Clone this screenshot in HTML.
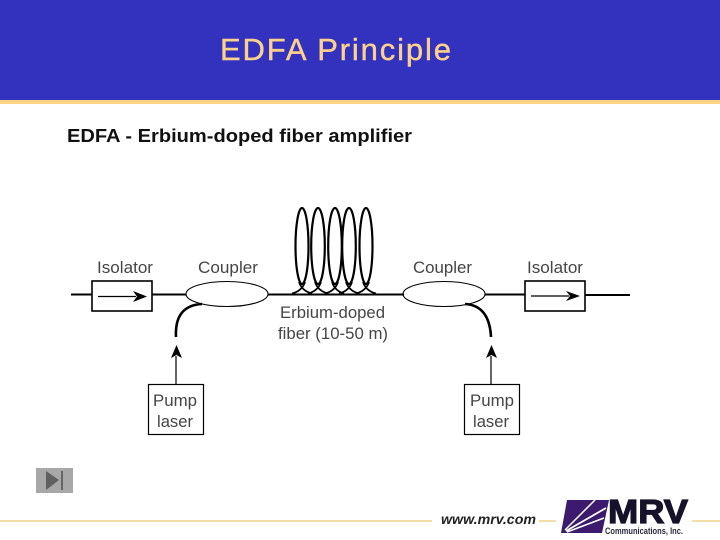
<!DOCTYPE html>
<html><head><meta charset="utf-8"><style>
html,body{margin:0;padding:0;background:#fff}
svg{display:block}
text{font-family:"Liberation Sans",sans-serif}
</style></head><body>
<svg width="720" height="540" viewBox="0 0 720 540" xmlns="http://www.w3.org/2000/svg">
<rect width="720" height="540" fill="#fff"/>
<rect width="720" height="100" fill="#3232bf"/>
<rect y="100" width="720" height="4" fill="#fdd283"/>
<text x="220" y="60" font-size="31" fill="#fdd08c" stroke="#fdd08c" stroke-width="0.400" textLength="231" lengthAdjust="spacing">EDFA Principle</text>
<text x="67" y="142" font-size="18" font-weight="bold" fill="#111" textLength="345" lengthAdjust="spacingAndGlyphs">EDFA - Erbium-doped fiber amplifier</text>

<g fill="none" stroke="#000">
<path d="M71 294.500H92M152 294.500H186M268 294.500H404M485 294.500H525M585 295H630" stroke-width="2"/>
<rect x="92" y="281" width="60" height="30" stroke-width="1.600" fill="#fff"/>
<rect x="525" y="281" width="60" height="30" stroke-width="1.600" fill="#fff"/>
<path d="M98 296.500H136M531 296H569" stroke-width="1.200"/>
<ellipse cx="227" cy="294" rx="41" ry="12.500" stroke-width="1.100"/>
<ellipse cx="444" cy="294" rx="41" ry="12.500" stroke-width="1.100"/>
<g stroke-width="2.200">
<ellipse cx="302" cy="246" rx="6.500" ry="38"/>
<ellipse cx="318" cy="246" rx="6.800" ry="38"/>
<ellipse cx="335" cy="246" rx="6.800" ry="38"/>
<ellipse cx="349" cy="246" rx="6.800" ry="38"/>
<ellipse cx="366" cy="246" rx="6.500" ry="38"/>
</g>
<g stroke-width="1.800">
<path d="M299 282Q302 291 312 293.500M305 282Q302 291 292 293.500"/>
<path d="M315 282Q318 291 328 293.500M321 282Q318 291 308 293.500"/>
<path d="M332 282Q335 291 344 293.500M338 282Q335 291 325 293.500"/>
<path d="M346 282Q349 291 359 293.500M352 282Q349 291 339 293.500"/>
<path d="M363 282Q366 291 376 293.500M369 282Q366 291 356 293.500"/>
</g>
<path d="M176 337C175 318 182 305 202 304" stroke-width="2.600"/>
<path d="M491 337C490 318 483 305 465 304" stroke-width="2.600"/>
<path d="M176 356V384M491 356V384" stroke-width="1.200"/>
<rect x="148.500" y="384.500" width="55" height="50" stroke-width="1.200" fill="#fff"/>
<rect x="464.500" y="384.500" width="55" height="50" stroke-width="1.200" fill="#fff"/>
</g>
<g fill="#000">
<path d="M133 291L147 296.500L133 302L137 296.500Z"/>
<path d="M566 291L580 296L566 301L570 296Z"/>
<path d="M176.500 345L182 358L176.500 355L171 358Z"/>
<path d="M491.500 345L497 358L491.500 355L486 358Z"/>
</g>
<g font-size="16.500" fill="#454545">
<text x="97" y="273" textLength="56" lengthAdjust="spacingAndGlyphs">Isolator</text>
<text x="198" y="273" textLength="60" lengthAdjust="spacingAndGlyphs">Coupler</text>
<text x="413" y="273" textLength="59" lengthAdjust="spacingAndGlyphs">Coupler</text>
<text x="527" y="273" textLength="56" lengthAdjust="spacingAndGlyphs">Isolator</text>
<text x="280" y="318" textLength="105" lengthAdjust="spacingAndGlyphs">Erbium-doped</text>
<text x="278" y="339" textLength="110" lengthAdjust="spacingAndGlyphs">fiber (10-50 m)</text>
<text x="153" y="406" textLength="44" lengthAdjust="spacingAndGlyphs">Pump</text>
<text x="157" y="427" textLength="36" lengthAdjust="spacingAndGlyphs">laser</text>
<text x="470" y="406" textLength="44" lengthAdjust="spacingAndGlyphs">Pump</text>
<text x="473" y="427" textLength="36" lengthAdjust="spacingAndGlyphs">laser</text>
</g>

<rect x="36" y="468" width="37" height="25" fill="#a8a8a8"/>
<path d="M46 471L59 480L46 490Z" fill="#606060"/>
<rect x="61" y="471" width="2" height="19" fill="#666"/>

<g fill="#f1dfa6">
<rect x="0" y="520" width="432" height="2"/>
<rect x="539" y="520" width="17" height="2"/>
<rect x="692" y="520" width="28" height="2"/>
</g>
<text x="441" y="524" font-size="14" font-weight="bold" font-style="italic" fill="#222" textLength="95" lengthAdjust="spacingAndGlyphs">www.mrv.com</text>
<path d="M567 500H609L602 533H561Z" fill="#3c1a6e"/>
<g stroke="#fff" fill="none">
<path d="M565 530L595 500" stroke-width="1.500"/>
<path d="M566 531L606 508" stroke-width="1.800"/>
<path d="M567 532L604 518" stroke-width="1.500"/>
</g>
<text x="608" y="523" font-size="33" font-weight="bold" fill="#15122a" stroke="#15122a" stroke-width="1.200" textLength="80" lengthAdjust="spacingAndGlyphs">MRV</text>
<text x="605" y="534" font-size="9" font-weight="bold" fill="#2a2a40" textLength="78" lengthAdjust="spacingAndGlyphs">Communications, Inc.</text>
</svg>
</body></html>
